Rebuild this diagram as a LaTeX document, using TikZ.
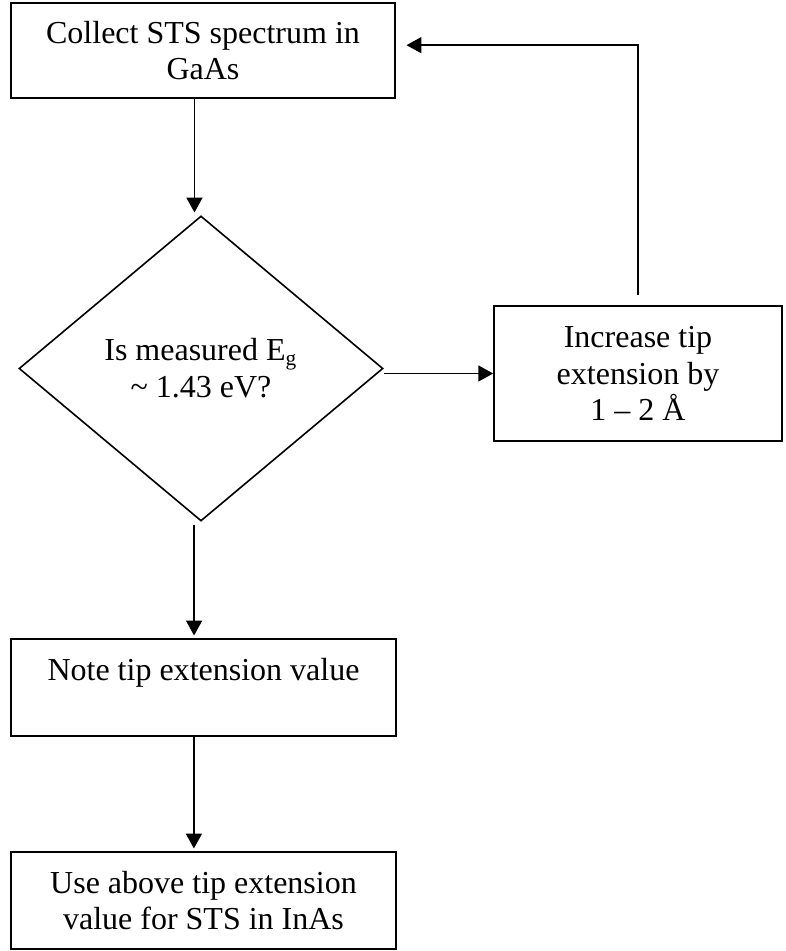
\documentclass[tikz,border=0pt]{standalone}
\usepackage{fontspec}
\setmainfont{Liberation Serif}
\usepackage{tikz}
\usetikzlibrary{arrows.meta, shapes.geometric, calc}
\tikzset{
  flowbox/.style={rectangle, draw=black, line width=0.6pt, align=center,
    font=\fontsize{12}{13.8}\selectfont, inner sep=2pt},
  flowdecision/.style={diamond, draw=black, line width=0.6pt, align=center,
    font=\fontsize{12}{13.8}\selectfont, inner sep=0pt},
  flowarrow/.style={-{Triangle[length=5.6pt, width=6pt]}, line width=0.6pt, black},
}
\begin{document}
\begin{tikzpicture}[x=0.375pt, y=-0.375pt]
    \useasboundingbox (0,0) rectangle (785,951);
    \node[flowbox, minimum width=144pt, minimum height=35.6pt] (collect) at (203,50.5)
      {Collect STS spectrum in\\ GaAs};
    \node[flowdecision, minimum width=136.5pt, minimum height=114.4pt] (check) at (201,368.5)
      {Is measured E\textsubscript{g}\\ \textasciitilde{} 1.43 eV?};
    \node[flowbox, minimum width=108pt, minimum height=50.6pt] (increase) at (638,373.5)
      {Increase tip\\ extension by\\ 1 -- 2 Å};
    \node[flowbox, minimum width=144.4pt, minimum height=36.4pt] (note) at (203.5,687.5)
      {Note tip extension value\\ \mbox{}};
    \node[flowbox, minimum width=144.4pt, minimum height=36.4pt] (use) at (203.5,900.5)
      {Use above tip extension\\ value for STS in InAs};
    \draw[flowarrow, shorten >=1pt]
      ([xshift=-3.2pt]collect.south) -- ([xshift=-3.2pt]collect.south |- check.north);
    \draw[flowarrow] (check.east |- increase.west) -- (increase.west);
    \draw[flowarrow, shorten <=4pt, shorten >=4pt]
      (increase.north) |- ([yshift=2pt]collect.east);
    \draw[flowarrow, shorten <=1pt, shorten >=1pt]
      ([xshift=-2.6pt]check.south) -- ([xshift=-2.6pt]check.south |- note.north);
    \draw[flowarrow, shorten >=1pt]
      ([xshift=-3.6pt]note.south) -- ([xshift=-3.6pt]note.south |- use.north);
  \end{tikzpicture}
\end{document}
